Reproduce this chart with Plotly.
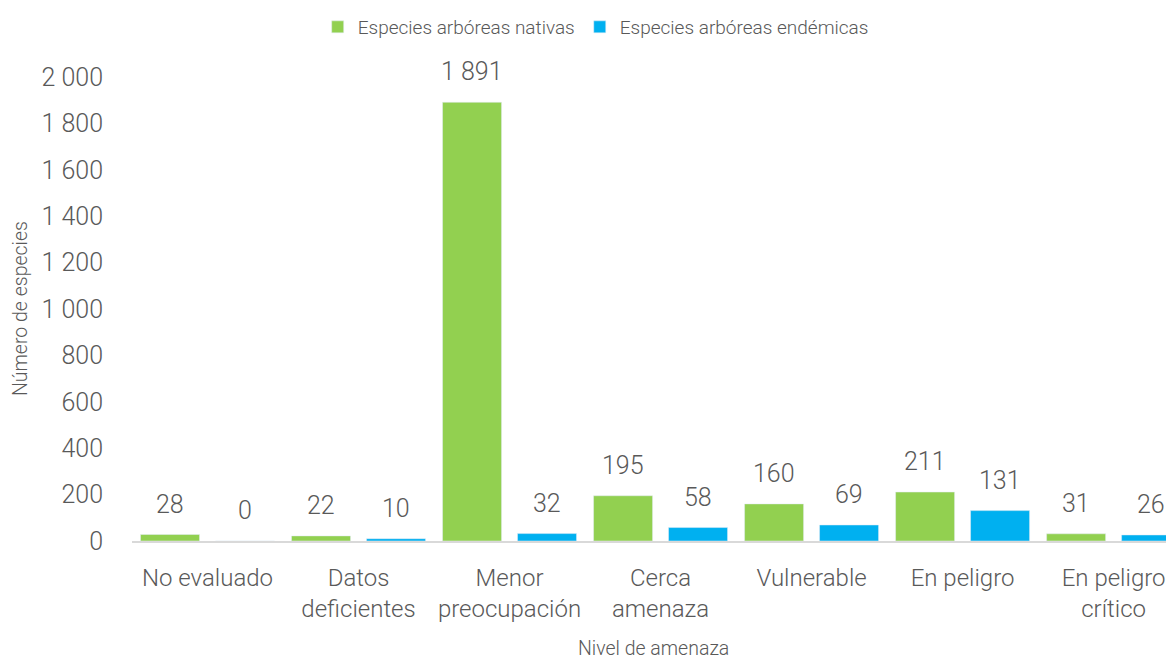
import plotly.graph_objects as go

categories = ["No evaluado", "Datos<br>deficientes", "Menor<br>preocupación", "Cerca<br>amenaza",
              "Vulnerable", "En peligro", "En peligro<br>crítico"]
nativas = [28, 22, 1891, 195, 160, 211, 31]
endemicas = [0, 10, 32, 58, 69, 131, 26]
yticks = [0, 200, 400, 600, 800, 1000, 1200, 1400, 1600, 1800, 2000]

FONT = "Roboto"
GRAY = "#595959"
W = 300

fig = go.Figure()
fig.add_trace(go.Bar(x=categories, y=nativas, name="Especies arbóreas nativas",
                     marker_color="#92D050"))
fig.add_trace(go.Bar(x=categories, y=endemicas, name="Especies arbóreas endémicas",
                     marker_color="#00B0F0"))

# value labels above each bar
for vals, xs in ((nativas, -37.5), (endemicas, 37.5)):
    for c, v in zip(categories, vals):
        fig.add_annotation(x=c, y=v, xref="x", yref="y", text=f"{v:,}".replace(",", " "),
                           showarrow=False, xshift=xs, yshift=14, yanchor="bottom",
                           font=dict(size=25, color=GRAY, family=FONT, weight=W))

# axis titles
fig.add_annotation(x=0.5, y=0, xref="paper", yref="paper", xanchor="center", yanchor="middle",
                   yshift=-107, text="Nivel de amenaza", showarrow=False,
                   font=dict(size=19.5, color=GRAY, family=FONT, weight=W))
fig.add_annotation(x=0, y=0.5, xref="paper", yref="paper", xanchor="center", yanchor="middle",
                   xshift=-112, text="Número de especies", textangle=-90, showarrow=False,
                   font=dict(size=19.5, color=GRAY, family=FONT, weight=W))

fig.update_layout(
    width=1166, height=652,
    paper_bgcolor="white", plot_bgcolor="white",
    separators=", ",
    font=dict(family=FONT, color=GRAY, weight=W),
    margin=dict(l=124, r=0, t=69, b=119),
    bargap=0.007, bargroupgap=0.213,
    legend=dict(orientation="h", x=0.445, xanchor="center", y=1.0, yref="container", yanchor="top",
                font=dict(size=19, color=GRAY, family=FONT, weight=W), itemwidth=30,
                traceorder="normal"),
    xaxis=dict(range=[-0.5, 6.4], showgrid=False, showline=True, linecolor="#D9D9D9", linewidth=2,
               automargin=False, tickfont=dict(size=24, color=GRAY, family=FONT, weight=W),
               ticks="", ticklabelstandoff=14),
    yaxis=dict(range=[0, 2000], tickvals=yticks, tickformat=",.0f", showgrid=False, zeroline=False,
               showline=False, automargin=False,
               tickfont=dict(size=25, color=GRAY, family=FONT, weight=W), ticklabelstandoff=28),
)

fig.write_html("out.html")
